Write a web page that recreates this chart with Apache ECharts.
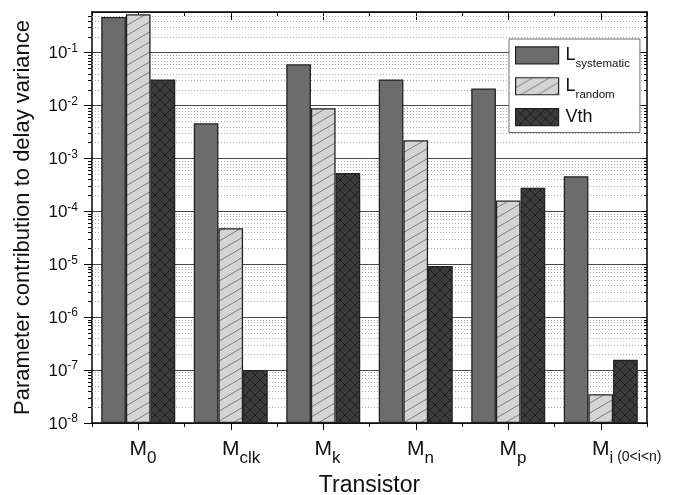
<!DOCTYPE html>
<html><head><meta charset="utf-8">
<script src="https://cdn.jsdelivr.net/npm/echarts@6/dist/echarts.min.js"></script>
<style>html,body{margin:0;padding:0;background:#fff}#c{width:673px;height:495px}</style>
</head><body><div id="c"></div>
<script>
// ---- data ----
const categoryMain = ['M', 'M', 'M', 'M', 'M', 'M'];
const categorySub = ['0', 'clk', 'k', 'n', 'p', 'i'];
const categorySub2 = ['', '', '', '', '', ' (0<i<n)'];
const categories = ['M0', 'Mclk', 'Mk', 'Mn', 'Mp', 'Mi (0<i<n)'];
const seriesNames = ['Lsystematic', 'Lrandom', 'Vth'];
const legendMain = ['L', 'L', 'Vth'];
const legendSub = ['systematic', 'random', ''];
const lSystematic = [0.47, 0.0046, 0.060, 0.031, 0.021, 4.6e-4];
const lRandom = [0.53, 4.8e-5, 0.0089, 0.0022, 1.6e-4, 3.5e-8];
const vth = [0.031, 1.0e-7, 5.3e-4, 9.3e-6, 2.8e-4, 1.56e-7];
const yMin = 1e-8;
const yMax = 0.583;
const decadeExps = [-8, -7, -6, -5, -4, -3, -2, -1];
const minorMultipliers = [2, 3, 4, 5, 6, 7, 8, 9];

const FONT = 'Liberation Sans, Arial, Helvetica, sans-serif';
const minorVals = [];
decadeExps.forEach(e => minorMultipliers.forEach(m => {
  const v = m * Math.pow(10, e);
  if (v <= yMax) minorVals.push([0, v]);
}));

// ---- patterns ----
function tilePattern(w, h, bg, fg, lw, dirs) {
  const c = document.createElement('canvas'); c.width = w; c.height = h;
  const g = c.getContext('2d');
  g.fillStyle = bg; g.fillRect(0, 0, w, h);
  g.strokeStyle = fg; g.lineWidth = lw;
  dirs.forEach(d => {
    for (let k = -1; k <= 1; k++) {
      g.beginPath();
      if (d === '/') { g.moveTo(k * w - w, 2 * h); g.lineTo(k * w + 2 * w, -h); }
      else { g.moveTo(k * w - w, -h); g.lineTo(k * w + 2 * w, 2 * h); }
      g.stroke();
    }
  });
  return c;
}
const hatch = tilePattern(17, 10, '#d4d4d4', '#7c7c7c', 1, ['/']);
const cross = tilePattern(10, 10, '#3c3c3c', '#1e1e1e', 1, ['/', '\\']);

const mc = document.createElement('canvas').getContext('2d');
function tw(txt, size) { mc.font = size + 'px ' + FONT; return mc.measureText(txt).width; }

const chart = echarts.init(document.getElementById('c'), null, {renderer: 'canvas'});

const xLabelRich = {
  m: {fontSize: 21, lineHeight: 26, color: '#111', fontFamily: FONT},
  s: {fontSize: 17, lineHeight: 17, verticalAlign: 'top', padding: [14, 0, 0, 0], color: '#111', fontFamily: FONT},
  s2: {fontSize: 14, lineHeight: 17, verticalAlign: 'top', padding: [14, 0, 0, 0], color: '#111', fontFamily: FONT}
};
function xFormatter(val, idx) {
  const w = tw(categorySub[idx], 17) + tw(categorySub2[idx], 14);
  xLabelRich['pad' + idx] = {width: w, lineHeight: 26, fontSize: 17};
  let s = '{pad' + idx + '| }{m|' + categoryMain[idx] + '}{s|' + categorySub[idx] + '}';
  if (categorySub2[idx]) s += '{s2|' + categorySub2[idx] + '}';
  return s;
}
categories.forEach((c, i) => xFormatter(c, i));

const axisBlack = {lineStyle: {color: '#000', width: 1.5}};

const option = {
  animation: false,
  backgroundColor: '#fff',
  textStyle: {fontFamily: FONT},
  grid: {left: 92, right: 26, top: 12, bottom: 72, containLabel: false, outerBoundsMode: 'none'},
  legend: {
    orient: 'vertical', left: 509, top: 39,
    padding: [7.2, 10, 6.2, 6], itemWidth: 43, itemHeight: 17, itemGap: 7.6,
    backgroundColor: '#fff', borderColor: '#6a6a6a', borderWidth: 1, borderRadius: 0,
    icon: 'rect', data: seriesNames,
    itemStyle: {borderWidth: 1.2, borderColor: '#222'},
    formatter: name => {
      const i = seriesNames.indexOf(name);
      return '{L|' + legendMain[i] + '}' + (legendSub[i] ? '{S|' + legendSub[i] + '}' : '');
    },
    textStyle: {
      rich: {
        L: {fontSize: 18, lineHeight: 18, padding: [0, 0, 0, 2], color: '#111', fontFamily: FONT},
        S: {fontSize: 11.5, lineHeight: 11.5, verticalAlign: 'top', padding: [11.25, 0, 0, 0], color: '#111', fontFamily: FONT}
      }
    }
  },
  xAxis: [
    {type: 'category', position: 'bottom', data: categories, boundaryGap: true,
      axisLine: axisBlack, axisTick: {show: true, length: 4, inside: false, lineStyle: {color: '#000', width: 1}},
      axisLabel: {interval: 0, margin: 13, formatter: xFormatter, rich: xLabelRich},
      name: 'Transistor', nameLocation: 'middle', nameGap: 51, nameMoveOverlap: false,
      nameTextStyle: {fontSize: 23, color: '#111', fontFamily: FONT},
      splitLine: {show: false}},
    {type: 'category', position: 'bottom', data: categories, boundaryGap: true,
      axisLine: {show: false}, axisTick: {show: true, alignWithLabel: true, interval: 0, length: 7, lineStyle: {color: '#000', width: 1}},
      axisLabel: {show: false}, splitLine: {show: false}},
    {type: 'category', position: 'top', data: categories, boundaryGap: true,
      axisLine: axisBlack, axisTick: {show: true, inside: true, length: 4, lineStyle: {color: '#000', width: 1}},
      axisLabel: {show: false}, splitLine: {show: false}},
    {type: 'category', position: 'top', data: categories, boundaryGap: true,
      axisLine: {show: false}, axisTick: {show: true, inside: true, alignWithLabel: true, interval: 0, length: 8, lineStyle: {color: '#000', width: 1}},
      axisLabel: {show: false}, splitLine: {show: false}}
  ],
  yAxis: [
    {type: 'log', logBase: 10, min: yMin, max: yMax, startValue: yMin, position: 'left', splitNumber: 8,
      axisLine: {show: true, lineStyle: {color: '#000', width: 1.5}},
      axisTick: {show: true, length: 8, inside: false, lineStyle: {color: '#000', width: 1}},
      axisLabel: {
        margin: 14, showMaxLabel: false, showMinLabel: true,
        formatter: v => '{b|10}{s|' + Math.round(Math.log10(v)) + '}',
        rich: {
          b: {fontSize: 17, lineHeight: 18, verticalAlign: 'top', padding: [1.5, 0, 0, 0], color: '#111', fontFamily: FONT},
          s: {fontSize: 12, lineHeight: 12, verticalAlign: 'bottom', padding: [0, 0, 7, 0], color: '#111', fontFamily: FONT}
        }
      },
      splitLine: {show: true, lineStyle: {color: '#4a4a4a', width: 1}},
      name: 'Parameter contribution to delay variance', nameLocation: 'middle', nameGap: 58, nameMoveOverlap: false,
      nameTextStyle: {fontSize: 22, color: '#111', fontFamily: FONT}
    },
    {type: 'log', logBase: 10, min: yMin, max: yMax, position: 'right', splitNumber: 8,
      axisLine: {show: true, lineStyle: {color: '#000', width: 1.5}},
      axisTick: {show: true, length: 5, inside: true, lineStyle: {color: '#000', width: 1}},
      axisLabel: {show: false}, splitLine: {show: false}}
  ],
  series: [
    {type: 'custom', name: 'minor', xAxisIndex: 0, yAxisIndex: 0, z: 1, silent: true, clip: false,
      data: minorVals,
      renderItem: (params, api) => {
        const cs = params.coordSys;
        const y = Math.round(api.coord([0, api.value(1)])[1]) + 0.5;
        return {type: 'group', children: [
          {type: 'line', shape: {x1: cs.x, y1: y, x2: cs.x + cs.width, y2: y}, style: {stroke: '#a8a8a8', lineWidth: 1, lineDash: [1, 2]}},
          {type: 'line', shape: {x1: cs.x - 4, y1: y, x2: cs.x, y2: y}, style: {stroke: '#000', lineWidth: 1}},
          {type: 'line', shape: {x1: cs.x + cs.width - 3, y1: y, x2: cs.x + cs.width, y2: y}, style: {stroke: '#000', lineWidth: 1}}
        ]};
      }
    },
    {type: 'bar', name: seriesNames[0], data: lSystematic, barGap: '0%', barCategoryGap: '20%', z: 3,
      itemStyle: {color: '#6c6c6c', borderColor: '#222', borderWidth: 1.3}},
    {type: 'bar', name: seriesNames[1], data: lRandom, barGap: '0%', barCategoryGap: '20%', z: 3,
      itemStyle: {color: {image: hatch, repeat: 'repeat'}, borderColor: '#222', borderWidth: 1.3}},
    {type: 'bar', name: seriesNames[2], data: vth, barGap: '0%', barCategoryGap: '20%', z: 3,
      itemStyle: {color: {image: cross, repeat: 'repeat'}, borderColor: '#222', borderWidth: 1.3}}
  ]
};
chart.setOption(option);
</script>
</body></html>
